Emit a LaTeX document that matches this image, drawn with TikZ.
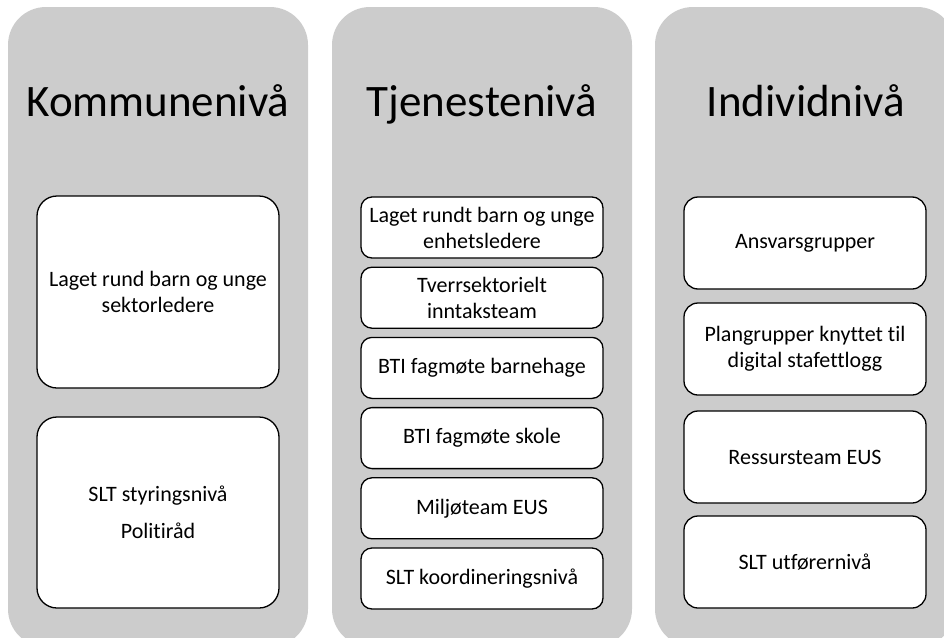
\documentclass[tikz,border=0pt]{standalone}
\usepackage{fontspec}
\setmainfont[RawFeature={-liga;-calt;-clig;-dlig}]{Carlito}
\definecolor{colgrey}{RGB}{204,204,204}
\begin{document}
\begin{tikzpicture}[x=1pt,y=-1pt,
  col/.style={fill=colgrey, draw=none, rounded corners=38pt, minimum width=300pt, minimum height=640pt, inner sep=0pt},
  coltitle/.style={font=\fontsize{45}{54}\selectfont, anchor=base, inner sep=0pt},
  box/.style={draw=black, line width=1.3pt, fill=white, align=center, font=\fontsize{22}{26}\selectfont, inner sep=0pt, minimum width=242pt},
  bigbox/.style={box, rounded corners=20pt},
  midbox/.style={box, rounded corners=11pt, minimum height=61pt},
  indbox/.style={box, rounded corners=14pt, minimum height=92pt},
]
\useasboundingbox (0,0) rectangle (944,637);
\clip (0,0) rectangle (944,637);
% columns
\node[col] (c1) at (158,327) {};
\node[col] (c2) at (482,327) {};
\node[col] (c3) at (805,327) {};
% titles
\node[coltitle] (t1) at (158,116) {Kommunenivå};
\node[coltitle] (t2) at (482,116) {Tjenestenivå};
\node[coltitle] (t3) at (806,116) {Individnivå};
% column 1
\node[bigbox, minimum height=192pt] (k1) at (158,292) {Laget rund barn og unge\\sektorledere};
\node[bigbox, minimum height=191pt] (k2) at (158,512.5) {SLT styringsnivå\\[11pt]Politiråd};
% column 2
\node[midbox] (j1) at (482,227.5) {Laget rundt barn og unge\\enhetsledere};
\node[midbox] (j2) at (482,297.7) {Tverrsektorielt\\inntaksteam};
\node[midbox] (j3) at (482,367.9) {BTI fagmøte barnehage};
\node[midbox] (j4) at (482,438.1) {BTI fagmøte skole};
\node[midbox] (j5) at (482,508.3) {Miljøteam EUS};
\node[midbox] (j6) at (482,578.5) {SLT koordineringsnivå};
% column 3
\node[indbox] (i1) at (805,243) {Ansvarsgrupper};
\node[indbox] (i2) at (805,349) {Plangrupper knyttet til\\digital stafettlogg};
\node[indbox] (i3) at (805,457) {Ressursteam EUS};
\node[indbox] (i4) at (805,562) {SLT utførernivå};
\end{tikzpicture}
\end{document}
